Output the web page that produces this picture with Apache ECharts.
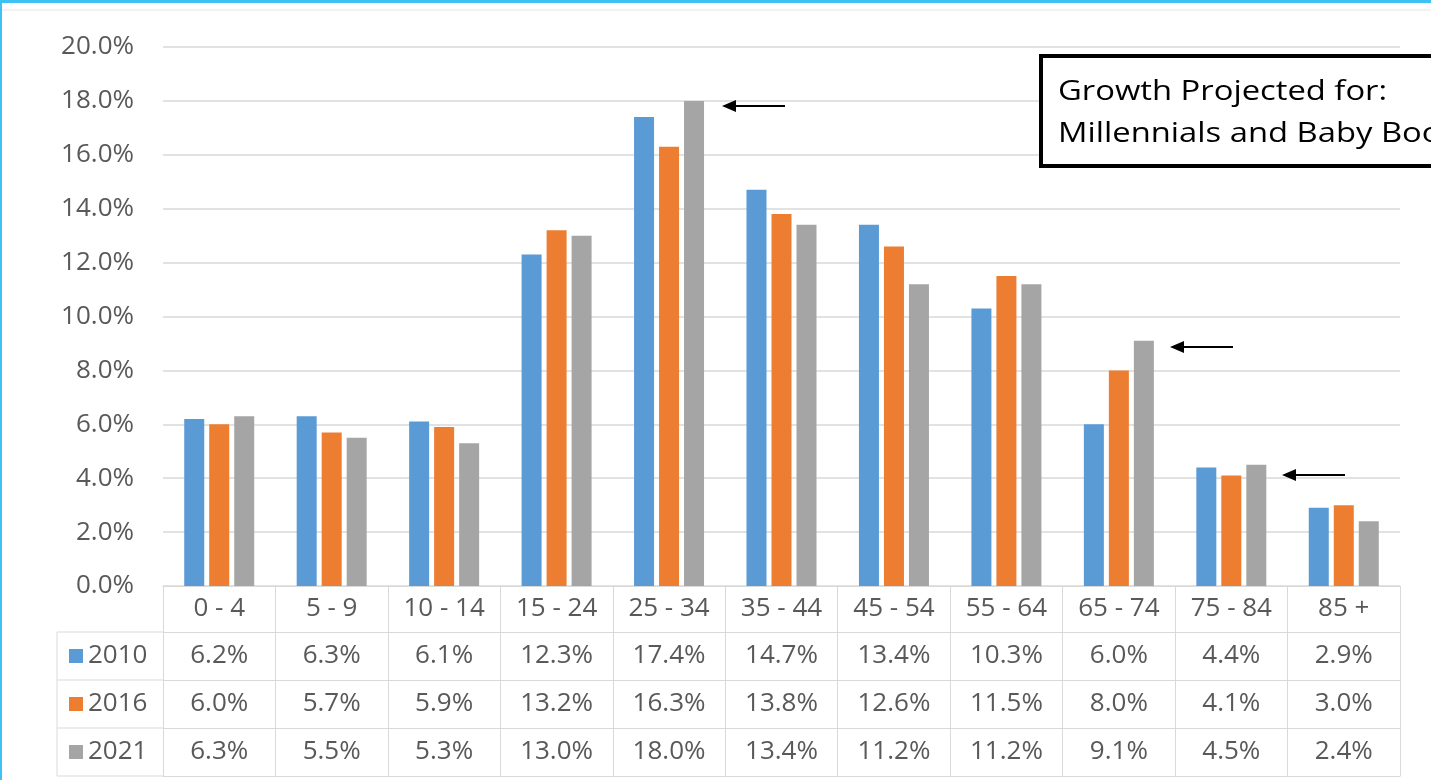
<!DOCTYPE html>
<html>
<head>
<meta charset="utf-8">
<script src="https://cdn.jsdelivr.net/npm/echarts@6/dist/echarts.min.js"></script>
<style>
  html, body { margin: 0; padding: 0; background: #fff; }
  #chart { width: 1431px; height: 780px; }
</style>
</head>
<body>
<div id="chart"></div>
<script>
const categories = ['0 - 4', '5 - 9', '10 - 14', '15 - 24', '25 - 34', '35 - 44', '45 - 54', '55 - 64', '65 - 74', '75 - 84', '85 +'];
const years = ['2010', '2016', '2021'];
const share2010 = [6.2, 6.3, 6.1, 12.3, 17.4, 14.7, 13.4, 10.3, 6.0, 4.4, 2.9];
const share2016 = [6.0, 5.7, 5.9, 13.2, 16.3, 13.8, 12.6, 11.5, 8.0, 4.1, 3.0];
const share2021 = [6.3, 5.5, 5.3, 13.0, 18.0, 13.4, 11.2, 11.2, 9.1, 4.5, 2.4];
const yMin = 0, yMax = 20, yStep = 2;

const colors = ['#5b9bd5', '#ed7d31', '#a5a5a5'];
const rows = [share2010, share2016, share2021];
const txt = '#595959';
const lineCol = '#d9d9d9';
const font = 'Open Sans';
const fs = 26;
const pct = v => v.toFixed(1) + '%';

const chart = echarts.init(document.getElementById('chart'));

// table rows under the plot are extra x axes
const rowAxes = rows.map((arr, i) => ({
  type: 'category',
  data: categories,
  position: 'bottom',
  offset: 46 + i * 48,
  axisLine: { show: true, lineStyle: { color: lineCol } },
  axisTick: { show: false },
  axisLabel: {
    interval: 0, margin: 11, fontSize: fs, fontFamily: font, color: txt,
    formatter: (v, idx) => pct(arr[idx])
  }
}));

// left column of the table (legend cell borders)
const tableLeft = [632, 680, 728, 776].map(y => ({
  type: 'line', shape: { x1: 57, y1: y, x2: 163, y2: y },
  style: { stroke: lineCol, lineWidth: 1 }
}));
tableLeft.push({ type: 'line', shape: { x1: 57, y1: 632, x2: 57, y2: 776 }, style: { stroke: lineCol, lineWidth: 1 } });

function arrow(tipX, tailX, y) {
  return [
    { type: 'line', z: 50, shape: { x1: tipX + 10, y1: y, x2: tailX, y2: y }, style: { stroke: '#000', lineWidth: 2 } },
    { type: 'polygon', z: 50, shape: { points: [[tipX, y], [tipX + 14, y - 6], [tipX + 14, y + 6]] }, style: { fill: '#000' } }
  ];
}

chart.setOption({
  animation: false,
  backgroundColor: '#fff',
  color: colors,
  grid: { left: 163, right: 31, top: 47, bottom: 194 },
  legend: {
    data: years,
    orient: 'vertical',
    left: 69, top: 643, padding: 0,
    itemWidth: 14, itemHeight: 14, itemGap: 22,
    icon: 'rect',
    textStyle: { fontSize: fs, fontFamily: font, color: txt, lineHeight: 26 }
  },
  xAxis: [
    {
      type: 'category',
      data: categories,
      position: 'bottom',
      axisLine: { show: true, lineStyle: { color: lineCol } },
      axisTick: { show: true, length: 190, lineStyle: { color: lineCol } },
      axisLabel: { interval: 0, margin: 10, fontSize: fs, fontFamily: font, color: txt }
    },
    ...rowAxes,
    {
      type: 'category',
      data: categories,
      position: 'bottom',
      offset: 190,
      axisLine: { show: true, lineStyle: { color: lineCol } },
      axisTick: { show: false },
      axisLabel: { show: false }
    }
  ],
  yAxis: {
    type: 'value',
    min: yMin, max: yMax, interval: yStep,
    axisLine: { show: false },
    axisTick: { show: false },
    axisLabel: { margin: 29, fontSize: fs, fontFamily: font, color: txt, formatter: v => pct(v) },
    splitLine: { lineStyle: { color: lineCol, width: 1.5 } }
  },
  series: years.map((y, i) => ({
    name: y,
    type: 'bar',
    data: rows[i],
    barWidth: 20,
    barGap: '25%'
  })),
  graphic: [
    { type: 'rect', shape: { x: 0, y: 0, width: 1431, height: 3 }, style: { fill: '#3ec1f3' } },
    { type: 'rect', shape: { x: 0, y: 0, width: 2, height: 780 }, style: { fill: '#3ec1f3' } },
    { type: 'line', shape: { x1: 2, y1: 10, x2: 1431, y2: 10 }, style: { stroke: '#e6e6e6', lineWidth: 1 } },
    ...tableLeft,
    {
      type: 'rect', z: 40,
      shape: { x: 1041, y: 56, width: 440, height: 110 },
      style: { fill: '#fff', stroke: '#000', lineWidth: 4 }
    },
    {
      type: 'text', z: 41, x: 1058, y: 71, scaleX: 1.17,
      style: {
        text: 'Growth Projected for:\nMillennials and Baby Boomers',
        fontSize: 28, fontFamily: font, fill: '#000', lineHeight: 42
      }
    },
    ...arrow(722, 785, 106),
    ...arrow(1170, 1233, 347),
    ...arrow(1282, 1345, 475)
  ]
});
</script>
</body>
</html>
